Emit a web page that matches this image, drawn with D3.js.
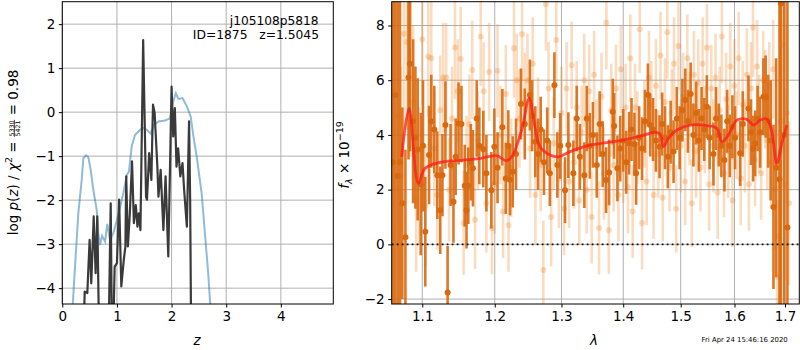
<!DOCTYPE html>
<html><head><meta charset="utf-8">
<script src="https://cdn.jsdelivr.net/npm/d3@7"></script>
<style>body{margin:0;background:#fff} svg{font-family:"DejaVu Sans",sans-serif}</style>
</head><body><svg id="c" width="800" height="350"></svg>
<script>
// ---------- Left panel: p(z) ----------
const zTicks = [0, 1, 2, 3, 4];
const pTicks = [-4, -3, -2, -1, 0, 1, 2];
const zBlue = [0.185,0.233,0.293,0.355,0.385,0.434,0.476,0.52,0.568,0.63,0.659,0.69,0.727,0.782,0.824,0.874,0.934,1.026,1.117,1.18,1.22,1.27,1.33,1.423,1.484,1.545,1.62,1.68,1.76,1.88,1.97,2.02,2.077,2.125,2.2,2.28,2.35,2.4,2.46,2.55,2.61,2.67,2.72];
const pBlue = [-4.5,-3.51,-2.3,-1.54,-1.05,-0.98,-1.02,-1.31,-1.77,-2.22,-2.75,-3.02,-2.81,-2.94,-2.54,-2.9,-2.75,-2.33,-1.84,-1.43,-1.35,-0.78,-0.52,-0.40,-0.36,-0.40,-0.49,-0.29,-0.21,-0.19,-0.14,0.2,0.43,0.30,0.32,0.13,-0.1,-0.55,-1.01,-1.84,-2.75,-3.66,-4.6];
const zBlack = [0.37,0.41,0.458,0.50,0.53,0.575,0.61,0.64,0.685,0.836,0.886,0.915,0.958,1.0,1.04,1.08,1.125,1.155,1.17,1.2,1.235,1.276,1.31,1.345,1.375,1.40,1.43,1.48,1.533,1.55,1.59,1.63,1.66,1.69,1.74,1.76,1.80,1.85,1.89,1.94,2.0,2.03,2.06,2.09,2.12,2.16,2.2,2.23,2.28,2.32,2.34,2.375];
const pBlack = [-6,-4.08,-4.11,-2.9,-3.89,-2.37,-3.66,-2.37,-6,-6,-2.07,-6,-3.51,-3.43,-1.99,-3.96,-3.36,-3.05,-1.46,-3.05,-2.33,-1.12,-2.52,-2.11,-2.6,-2.3,-2.68,1.64,-1.92,-1.99,-0.93,-1.54,0.17,-0.02,-1.24,-1.92,-1.31,-2.68,-1.46,-3.28,0.58,-0.55,0.09,-1.24,-0.82,-1.46,-1.16,-1.77,-2.6,-0.21,-1.99,-8];

// ---------- Right panel: spectrum ----------
const wTicks = [1.1, 1.2, 1.3, 1.4, 1.5, 1.6, 1.7];
const fTicks = [-2, 0, 2, 4, 6, 8];
const modelWave = [1.0732,1.0827,1.0948,1.1037,1.1237,1.1556,1.1768,1.2028,1.2163,1.2247,1.2394,1.2507,1.2593,1.2669,1.2822,1.2952,1.3135,1.3402,1.3727,1.4003,1.4287,1.4546,1.4634,1.4692,1.4781,1.4931,1.5171,1.5478,1.5665,1.5759,1.5884,1.6045,1.6239,1.6368,1.6500,1.6633,1.6733,1.6834,1.6935,1.7037];
const modelFlux = [3.2,4.97,2.23,2.78,3.0,3.08,3.13,3.24,3.06,3.2,4.18,5.34,4.3,3.57,3.27,3.2,3.39,3.6,3.72,3.81,3.96,4.09,4.03,3.57,3.88,4.18,4.36,4.34,4.24,3.75,4.0,4.54,4.57,4.36,4.54,4.58,4.12,2.96,3.69,4.36];

const darkWave = [1.062,1.065,1.068,1.071,1.074,1.078,1.082,1.084,1.088,1.091,1.094,1.098,1.101,1.104,1.109,1.112,1.116,1.120,1.124,1.127,1.131,1.134,1.138,1.142,1.145,1.149,1.153,1.1575,1.160,1.1625,1.166,1.169,1.1743,1.178,1.1836,1.188,1.1951,1.1994,1.204,1.211,1.2159,1.2197,1.2222,1.2262,1.231,1.2384,1.244,1.2517,1.255,1.2598,1.264,1.268,1.273,1.278,1.282,1.289,1.2936,1.298,1.3056,1.3108,1.3187,1.3241,1.329,1.3362,1.3401,1.345,1.350,1.3563,1.361,1.366,1.3715,1.3765,1.3826,1.3848,1.3903,1.395,1.400,1.405,1.410,1.414,1.419,1.4219,1.427,1.432,1.437,1.4421,1.4461,1.451,1.456,1.4624,1.467,1.472,1.477,1.482,1.4872,1.493,1.498,1.503,1.5082,1.513,1.518,1.523,1.528,1.533,1.538,1.543,1.5478,1.553,1.5601,1.565,1.570,1.575,1.5808,1.586,1.591,1.596,1.601,1.6109,1.616,1.6271,1.632,1.636,1.6402,1.645,1.650,1.6565,1.661,1.666,1.671,1.6766,1.682,1.6888,1.6916,1.6983,1.7049,1.714];
const darkFlux = [3.0,5.46,2.5,3.0,1.5,0.26,6.1,6.6,4.5,3.9,3.47,2.2,3.6,0.46,3.27,4.5,4.2,2.53,1.25,2.53,4.36,-1.76,2.9,1.56,3.2,4.42,4.4,2.14,1.25,2.14,3.0,2.78,4.6,3.6,3.48,2.6,1.98,3.57,2.8,4.28,2.41,3.6,2.36,2.65,3.3,5.13,4.4,5.46,4.7,3.75,3.3,4.2,3.0,3.8,2.6,5.82,2.9,3.6,1.98,3.63,2.6,4.6,3.2,2.53,4.6,3.6,4.0,2.9,4.4,3.3,2.35,2.63,4.85,4.33,2.78,3.5,3.8,3.0,3.7,4.2,3.66,2.6,3.9,3.5,4.5,5.46,4.36,4.2,3.8,3.57,4.4,3.9,3.2,4.1,3.39,4.6,3.9,4.9,5.28,4.5,5.5,4.0,4.8,3.8,4.6,4.2,5.03,3.9,3.3,4.6,4.0,3.6,3.08,4.5,3.6,4.3,3.9,3.33,4.4,4.97,4.1,3.5,3.69,4.6,4.1,5.4,5.4,4.5,3.8,1.37,2.8,2.38,8.8,4.0,0.62,4.0];
const darkErr = [14,14,8,6,3.5,3.2,3.0,3.2,3.0,2.6,2.6,2.6,2.4,2.0,1.8,1.7,1.6,1.6,1.6,1.5,1.6,1.7,1.5,1.5,1.4,1.5,1.4,1.5,1.4,1.4,1.4,1.4,1.4,1.4,1.4,1.4,1.4,1.4,1.3,1.4,1.3,1.3,1.3,1.3,1.3,1.3,1.3,1.3,1.3,1.3,1.3,1.2,1.2,1.2,1.2,1.2,1.2,1.2,1.2,1.2,1.2,1.2,1.2,1.2,1.2,1.2,1.2,1.2,1.2,1.2,1.2,1.2,1.2,1.2,1.2,1.2,1.15,1.15,1.15,1.15,1.15,1.15,1.15,1.15,1.15,1.15,1.15,1.15,1.15,1.15,1.15,1.15,1.15,1.15,1.15,1.15,1.15,1.15,1.15,1.15,1.15,1.15,1.15,1.15,1.15,1.15,1.15,1.15,1.15,1.15,1.15,1.15,1.15,1.15,1.15,1.15,1.15,1.2,1.2,1.2,1.2,1.2,1.2,1.2,1.3,1.4,1.5,1.7,2.2,3.0,4.0,14,14,14,14];

const lightWave = [1.068,1.072,1.076,1.080,1.084,1.088,1.092,1.096,1.100,1.104,
1.108,1.112,1.116,1.120,1.124,1.128,1.132,1.136,1.140,1.144,
1.148,1.152,1.156,1.160,1.164,1.168,1.172,1.176,1.180,1.184,
1.188,1.192,1.196,1.200,1.204,1.208,1.212,1.216,1.220,1.224,
1.228,1.232,1.236,1.240,1.244,1.248,1.252,1.256,1.260,1.264,
1.268,1.272,1.276,1.280,1.284,1.288,1.292,1.296,1.300,1.304,
1.308,1.312,1.316,1.320,1.324,1.328,1.332,1.336,1.340,1.344,
1.348,1.352,1.356,1.360,1.364,1.368,1.372,1.376,1.380,1.384,
1.388,1.392,1.396,1.400,1.404,1.408,1.412,1.416,1.420,1.424,
1.428,1.432,1.436,1.440,1.444,1.448,1.452,1.456,1.460,1.464,
1.468,1.472,1.476,1.480,1.484,1.488,1.492,1.496,1.500,1.504,
1.508,1.512,1.516,1.520,1.524,1.528,1.532,1.536,1.540,1.544,
1.548,1.552,1.556,1.560,1.564,1.568,1.572,1.576,1.580,1.584,
1.588,1.592,1.596,1.600,1.604,1.608,1.612,1.616,1.620,1.624,
1.628,1.632,1.636,1.640,1.644,1.648,1.652,1.656,1.660,1.664,
1.668,1.672,1.676,1.680,1.684,1.688,1.692,1.696,1.700,1.704,1.708];
const lightFlux = [4.7,2.5,7.7,7.4,6.2,5.2,1.6,2.5,7.5,1.4,
6.86,6.8,3.5,1.8,4.9,6.1,6.1,2.0,4.6,7.2,
5.6,6.78,0.78,2.9,4.4,6.37,0.9,3.8,7.6,5.6,
1.5,6.3,0.6,2.2,6.35,4.0,1.2,5.5,0.7,2.8,
7.17,6.0,4.6,7.68,5.2,6.0,3.5,6.6,1.8,4.4,
2.9,-0.94,8.78,5.7,1.0,3.7,7.47,2.4,4.8,1.3,
5.7,2.3,6.55,3.0,5.0,1.6,4.1,6.0,2.0,5.6,
1.0,6.2,3.6,0.6,5.4,2.6,8.1,0.52,4.9,2.9,
5.7,1.8,6.4,3.2,5.0,2.1,6.8,1.2,5.0,3.9,
7.86,0.78,4.4,2.3,6.1,5.1,1.8,5.8,3.3,6.9,
1.7,5.2,7.75,2.8,4.8,6.6,1.3,7.25,3.6,5.4,
2.3,6.8,4.6,1.5,6.2,3.4,5.9,2.8,6.6,4.2,
7.19,2.2,5.7,3.6,6.1,1.9,4.9,7.6,2.6,5.3,
3.4,6.5,1.6,5.8,4.0,6.8,2.4,5.1,3.6,6.2,
2.2,5.7,7.93,3.1,6.5,4.4,2.6,6.0,5.3,3.8,
5.8,3.0,6.4,2.0,-1.18,0.3,4.5,7.3,2.2,4.8,1.5];
const lightErr = [4.0,4.0,3.5,3.2,3.0,2.8,2.6,2.5,2.4,2.2,
2.2,2.1,2.1,2.0,2.0,2.0,2.0,1.9,1.9,1.9,
1.9,1.9,1.9,1.8,1.8,1.8,1.8,1.8,1.8,1.8,
1.8,1.8,1.7,1.8,1.7,1.8,1.7,1.8,1.7,1.8,
1.8,1.7,1.8,1.7,1.8,1.7,1.8,1.7,1.8,1.7,
1.7,1.8,1.7,1.7,1.8,1.7,1.7,1.8,1.7,1.7,
1.7,1.7,1.6,1.7,1.7,1.6,1.7,1.7,1.6,1.7,
1.7,1.6,1.7,1.7,1.6,1.7,1.7,1.6,1.7,1.7,
1.6,1.7,1.6,1.7,1.6,1.7,1.6,1.7,1.6,1.7,
1.6,1.7,1.6,1.6,1.7,1.6,1.6,1.7,1.6,1.6,
1.6,1.6,1.7,1.6,1.6,1.7,1.6,1.6,1.7,1.6,
1.6,1.6,1.7,1.6,1.6,1.7,1.6,1.6,1.7,1.6,
1.6,1.7,1.6,1.7,1.6,1.7,1.6,1.7,1.6,1.7,
1.7,1.6,1.7,1.7,1.6,1.7,1.7,1.6,1.7,1.7,
1.7,1.7,1.8,1.7,1.7,1.8,1.7,1.8,1.8,1.8,
1.6,1.7,1.8,2.2,2.8,3.2,3.5,4.0,3.5,3.2,3.0];

// ---------- Drawing ----------
const svg = d3.select("#c");
const FS = 13.5;
const fmt = d => String(d).replace("-", "\u2212");

function panel(x0, x1, y0, y1, xs, ys, xt, yt) {
  const g = svg.append("g");
  const id = "clip" + Math.round(x0);
  svg.append("clipPath").attr("id", id).append("rect")
    .attr("x", x0).attr("y", y0).attr("width", x1 - x0).attr("height", y1 - y0);
  g.append("g").selectAll("line").data(xt).join("line")
    .attr("x1", d => xs(d)).attr("x2", d => xs(d)).attr("y1", y0).attr("y2", y1)
    .attr("stroke", "#b0b0b0").attr("stroke-width", 1);
  g.append("g").selectAll("line").data(yt).join("line")
    .attr("y1", d => ys(d)).attr("y2", d => ys(d)).attr("x1", x0).attr("x2", x1)
    .attr("stroke", "#b0b0b0").attr("stroke-width", 1);
  const plot = g.append("g").attr("clip-path", `url(#${id})`);
  return {g, plot};
}

function axes(g, x0, x1, y0, y1, xs, ys, xt, yt, xfmt) {
  const ax = g.append("g").attr("transform", `translate(0,${y1})`)
    .call(d3.axisBottom(xs).tickValues(xt).tickFormat(xfmt).tickSize(3.5).tickPadding(3.5));
  const ay = g.append("g").attr("transform", `translate(${x0},0)`)
    .call(d3.axisLeft(ys).tickValues(yt).tickFormat(fmt).tickSize(3.5).tickPadding(3.5));
  [ax, ay].forEach(a => {
    a.select(".domain").remove();
    a.selectAll("text").attr("font-size", FS).attr("fill", "#000").attr("font-family", "DejaVu Sans");
    a.selectAll("line").attr("stroke", "#000").attr("stroke-width", 1);
  });
  g.append("rect").attr("x", x0).attr("y", y0).attr("width", x1 - x0).attr("height", y1 - y0)
    .attr("fill", "none").attr("stroke", "#000").attr("stroke-width", 1);
}

// Left
const L = {x0: 62.3, x1: 333.3, y0: 1.7, y1: 304};
const xL = d3.scaleLinear([0, 4.96], [L.x0, L.x1]);
const yL = d3.scaleLinear([-4.36, 2.51], [L.y1, L.y0]);
const PL = panel(L.x0, L.x1, L.y0, L.y1, xL, yL, zTicks, pTicks);
const lineL = d3.line().x(d => xL(d[0])).y(d => yL(d[1]));
PL.plot.append("path").attr("d", lineL(d3.zip(zBlue, pBlue)))
  .attr("fill", "none").attr("stroke", "#1f77b4").attr("stroke-opacity", 0.5).attr("stroke-width", 2);
PL.plot.append("path").attr("d", lineL(d3.zip(zBlack, pBlack)))
  .attr("fill", "none").attr("stroke", "#3a3a3a").attr("stroke-width", 2.2).attr("stroke-linejoin", "round");
axes(PL.g, L.x0, L.x1, L.y0, L.y1, xL, yL, zTicks, pTicks, d => String(d));

PL.g.append("text").attr("x", 318.5).attr("y", 24.5).attr("text-anchor", "end")
  .attr("font-size", 12.2).text("j105108p5818");
PL.g.append("text").attr("x", 319).attr("y", 39).attr("text-anchor", "end")
  .attr("font-size", 12.3).style("white-space", "pre").text("ID=1875   z=1.5045");

svg.append("text").attr("x", 197).attr("y", 345).attr("text-anchor", "middle")
  .attr("font-size", FS).attr("font-style", "italic").text("z");

{
  const outer = svg.append("g").attr("transform", "translate(17.5,152.5) rotate(-90)");
  const inner = outer.append("g");
  const t1 = inner.append("text").attr("font-size", FS).style("white-space", "pre");
  t1.append("tspan").text("log ");
  t1.append("tspan").attr("font-style", "italic").text("p");
  t1.append("tspan").text("(");
  t1.append("tspan").attr("font-style", "italic").text("z");
  t1.append("tspan").text(") / ");
  t1.append("tspan").attr("font-style", "italic").text("\u03c7");
  t1.append("tspan").attr("font-size", 9.5).attr("dy", -5.5).text("2");
  t1.append("tspan").attr("dy", 5.5).text(" = ");
  const w1 = t1.node().getComputedTextLength();
  const num = inner.append("text").attr("font-size", 6.3).attr("y", -3.9).attr("text-anchor", "middle").text("5330");
  const den = inner.append("text").attr("font-size", 6.3).attr("y", 2.0).attr("text-anchor", "middle").text("5421");
  const wf = Math.max(num.node().getComputedTextLength(), den.node().getComputedTextLength()) + 1.5;
  num.attr("x", w1 + wf / 2); den.attr("x", w1 + wf / 2);
  inner.append("line").attr("x1", w1 + 0.2).attr("x2", w1 + wf - 0.2).attr("y1", -3.1).attr("y2", -3.1)
    .attr("stroke", "#000").attr("stroke-width", 0.7);
  const t3 = inner.append("text").attr("font-size", FS).attr("x", w1 + wf).style("white-space", "pre").text(" = 0.98");
  const W = w1 + wf + t3.node().getComputedTextLength();
  inner.attr("transform", `translate(${-W / 2},0)`);
}

// Right
const R = {x0: 391.7, x1: 799.3, y0: 1.7, y1: 304};
const xR = d3.scaleLog([1.0604, 1.7294], [R.x0, R.x1]);
const yR = d3.scaleLinear([-2.18, 8.87], [R.y1, R.y0]);
const PR = panel(R.x0, R.x1, R.y0, R.y1, xR, yR, wTicks, fTicks);
const ORANGE = "#d9690f";
const LIGHT = "#f08a30";
const light = d3.zip(lightWave, lightFlux, lightErr);
const dark = d3.zip(darkWave, darkFlux, darkErr);
PR.plot.append("g").selectAll("line").data(light).join("line")
  .attr("x1", d => xR(d[0])).attr("x2", d => xR(d[0]))
  .attr("y1", d => yR(d[1] - d[2])).attr("y2", d => yR(d[1] + d[2]))
  .attr("stroke", LIGHT).attr("stroke-opacity", 0.3).attr("stroke-width", 2.6);
PR.plot.append("g").selectAll("circle").data(light).join("circle")
  .attr("cx", d => xR(d[0])).attr("cy", d => yR(d[1])).attr("r", 3)
  .attr("fill", LIGHT).attr("fill-opacity", 0.3);
PR.plot.append("g").selectAll("line").data(dark).join("line")
  .attr("x1", d => xR(d[0])).attr("x2", d => xR(d[0]))
  .attr("y1", d => yR(d[1] - d[2])).attr("y2", d => yR(d[1] + d[2]))
  .attr("stroke", ORANGE).attr("stroke-opacity", 0.9).attr("stroke-width", 2.6);
PR.plot.append("g").selectAll("circle").data(dark).join("circle")
  .attr("cx", d => xR(d[0])).attr("cy", d => yR(d[1])).attr("r", 3)
  .attr("fill", ORANGE);
PR.plot.append("path")
  .attr("d", d3.line().curve(d3.curveCatmullRom.alpha(0.5)).x(d => xR(d[0])).y(d => yR(d[1]))(d3.zip(modelWave, modelFlux)))
  .attr("fill", "none").attr("stroke", "#ff1a1a").attr("stroke-opacity", 0.75).attr("stroke-width", 2.8);
PR.plot.append("line").attr("x1", R.x0).attr("x2", R.x1).attr("y1", yR(0)).attr("y2", yR(0))
  .attr("stroke", "#111").attr("stroke-width", 1.8).attr("stroke-dasharray", "1.8,3.2");
axes(PR.g, R.x0, R.x1, R.y0, R.y1, xR, yR, wTicks, fTicks, d3.format(".1f"));

svg.append("text").attr("x", 594).attr("y", 345).attr("text-anchor", "middle")
  .attr("font-size", FS).attr("font-style", "italic").text("\u03bb");

{
  const t = svg.append("text").attr("transform", "translate(348.5,155) rotate(-90)")
    .attr("text-anchor", "middle").attr("font-size", FS);
  t.append("tspan").attr("font-style", "italic").text("f");
  t.append("tspan").attr("font-style", "italic").attr("font-size", 9.5).attr("dy", 3).text("\u03bb");
  t.append("tspan").attr("dy", -3).text(" \u00d7 10");
  t.append("tspan").attr("font-size", 9.5).attr("dy", -5.5).text("\u221219");
}

svg.append("text").attr("x", 787.7).attr("y", 342).attr("text-anchor", "end")
  .attr("font-size", 6.9).text("Fri Apr 24 15:46:16 2020");
</script></body></html>
